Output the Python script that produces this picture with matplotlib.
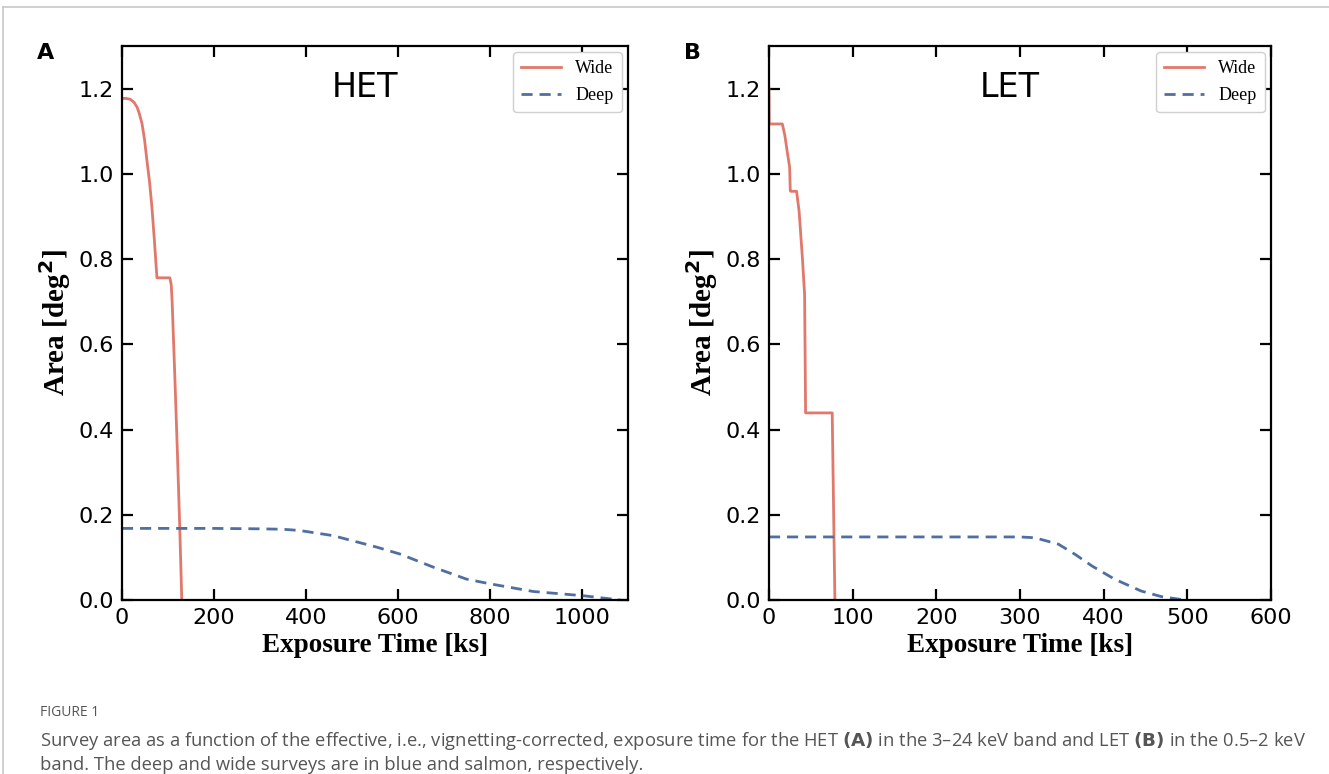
import matplotlib.pyplot as plt
from matplotlib.lines import Line2D

# HET (panel A)
het_wide_x = [0, 8, 18, 26, 33, 38, 43.5, 49, 54, 60, 65, 70, 76, 90, 104, 107, 109, 115, 120, 125, 130]
het_wide_y = [1.177, 1.177, 1.175, 1.168, 1.156, 1.14, 1.118, 1.08, 1.033, 0.98, 0.922, 0.85, 0.756, 0.756, 0.756, 0.74, 0.70, 0.52, 0.36, 0.19, 0.0]
het_deep_x = [0, 100, 200, 300, 350, 387, 459, 554, 604, 677, 749, 800, 894, 1003, 1083]
het_deep_y = [0.168, 0.168, 0.168, 0.167, 0.166, 0.163, 0.151, 0.124, 0.108, 0.077, 0.049, 0.038, 0.020, 0.010, 0.0]

# LET (panel B)
let_wide_x = [0, 0.3, 8, 16, 19, 22, 24.7, 25.5, 26, 33, 36, 40, 42.6, 43.8, 60, 75.6, 78.8]
let_wide_y = [1.20, 1.117, 1.117, 1.117, 1.09, 1.05, 1.016, 0.96, 0.959, 0.959, 0.913, 0.802, 0.717, 0.439, 0.439, 0.439, 0.0]
let_deep_x = [0, 100, 200, 300, 318, 346, 366, 386, 413, 445, 469, 497]
let_deep_y = [0.148, 0.148, 0.148, 0.148, 0.146, 0.131, 0.107, 0.080, 0.049, 0.021, 0.008, 0.0]

wide_color = '#E0786C'
deep_color = '#4F6FA0'

fig = plt.figure(figsize=(13.29, 7.74), dpi=100)

# card border
fig.add_artist(Line2D([0.0023, 1.0], [0.991, 0.991], color='#c8c8c8', lw=1.2))
fig.add_artist(Line2D([0.0023, 0.0023], [0.0, 0.991], color='#c8c8c8', lw=1.2))

panels = [
    ([0.0918, 0.2248, 0.3807, 0.7158], het_wide_x, het_wide_y, het_deep_x, het_deep_y, 'HET', 'A', 1100, [0, 200, 400, 600, 800, 1000]),
    ([0.5786, 0.2248, 0.3777, 0.7158], let_wide_x, let_wide_y, let_deep_x, let_deep_y, 'LET', 'B', 600, [0, 100, 200, 300, 400, 500, 600]),
]

for rect, wx, wy, dx, dy, name, letter, xmax, xticks in panels:
    ax = fig.add_axes(rect)
    ax.plot(wx, wy, color=wide_color, lw=2, label='Wide')
    ax.plot(dx, dy, color=deep_color, lw=2, ls=(0, (4, 2.5)), label='Deep')
    ax.set_xlim(0, xmax)
    ax.set_ylim(0, 1.3)
    ax.set_xticks(xticks)
    ax.set_yticks([0.0, 0.2, 0.4, 0.6, 0.8, 1.0, 1.2])
    ax.tick_params(direction='in', length=8, width=1.6, labelsize=16,
                   top=True, right=True, pad=6)
    for s in ax.spines.values():
        s.set_linewidth(1.6)
    ax.set_xlabel('Exposure Time [ks]', family='Liberation Serif',
                  fontweight='bold', fontsize=19.5, labelpad=3)
    ax.set_ylabel('Area [deg$^\\mathbf{2}$]', family='Liberation Serif',
                  fontweight='bold', fontsize=21, labelpad=4)
    ax.text(0.48, 0.925, name, transform=ax.transAxes, fontsize=24,
            ha='center', va='center')
    leg = ax.legend(loc='upper right', prop={'family': 'Liberation Serif', 'size': 13},
                    handlelength=2.2, borderpad=0.45, labelspacing=0.55,
                    framealpha=1, edgecolor='#d0d0d0', fancybox=True,
                    borderaxespad=0.35)
    fig.text(rect[0] - 0.0573, 0.931, letter, fontsize=16, fontweight='bold',
             ha='center', va='center')

cap_font = 'Open Sans'
fig.text(0.030, 0.079, 'FIGURE 1', fontsize=10, color='#555555', family=cap_font,
         va='center')
fig.text(0.030, 0.042,
         'Survey area as a function of the effective, i.e., vignetting-corrected, exposure time for the HET '
         + r'$\bf{(A)}$' + ' in the 3\u201324 keV band and LET ' + r'$\bf{(B)}$'
         + ' in the 0.5\u20132 keV',
         fontsize=13.2, color='#555555', family=cap_font, va='center')
fig.text(0.030, 0.011,
         'band. The deep and wide surveys are in blue and salmon, respectively.',
         fontsize=13.2, color='#555555', family=cap_font, va='center')

fig.savefig('out.png', dpi=100)
